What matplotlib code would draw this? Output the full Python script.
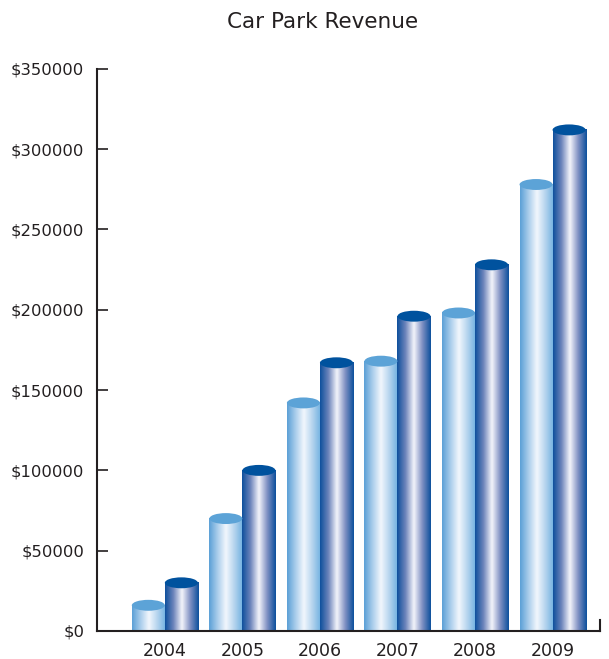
import numpy as np
import matplotlib.pyplot as plt
from matplotlib.colors import LinearSegmentedColormap
from matplotlib.patches import Ellipse

years = ['2004', '2005', '2006', '2007', '2008', '2009']
light_vals = [16000, 70000, 142000, 168000, 198000, 278000]
dark_vals = [30000, 100000, 167000, 196000, 228000, 312000]

light_cmap = LinearSegmentedColormap.from_list(
    'light', ['#5a9fd6', '#a9cdeb', '#f2f7fd', '#b5d4ee', '#6fb0e0'])
dark_cmap = LinearSegmentedColormap.from_list(
    'dark', ['#0d4f9c', '#6d84bb', '#f4f5fb', '#7e8fc2', '#0b4f9c'])
light_top = '#5ca3d7'
dark_top = '#00529e'

fig = plt.figure(figsize=(6.09, 6.59), dpi=100)
ax = fig.add_axes([0.159, 0.0425, 0.826, 0.853])

w = 0.426
ell_h = 6800  # height of the top ellipse in data units
grad = np.linspace(0, 1, 256).reshape(1, -1)

def cylinder(x0, h, cmap, top):
    ax.imshow(grad, cmap=cmap, extent=[x0, x0 + w, 0, h], aspect='auto',
              interpolation='bicubic', zorder=2)
    ax.add_patch(Ellipse((x0 + w / 2, h), w, ell_h, facecolor=top,
                         edgecolor='none', zorder=3))

for i in range(len(years)):
    cylinder(i - w, light_vals[i], light_cmap, light_top)
    cylinder(i, dark_vals[i], dark_cmap, dark_top)

ax.set_xlim(-0.877, 5.61)
ax.set_ylim(0, 350000)
ax.set_xticks(range(len(years)))
ax.set_xticklabels(years)
ax.set_yticks(np.arange(0, 350001, 50000))
ax.set_yticklabels(['$' + str(v) for v in range(0, 350001, 50000)])

txt = '#231f20'
ax.tick_params(axis='y', direction='in', length=8, width=1.2, color=txt,
               labelsize=11.8, labelcolor=txt, pad=9)
ax.tick_params(axis='x', length=0, labelsize=12.5, labelcolor=txt, pad=8)

ax.spines['top'].set_visible(False)
for s in ['left', 'bottom', 'right']:
    ax.spines[s].set_linewidth(1.5)
    ax.spines[s].set_color(txt)
ax.spines['right'].set_bounds(0, 7000)

fig.text(0.529, 0.967, 'Car Park Revenue', fontsize=15.5, color=txt,
         ha='center', va='center')

fig.savefig('out.png', dpi=100)
